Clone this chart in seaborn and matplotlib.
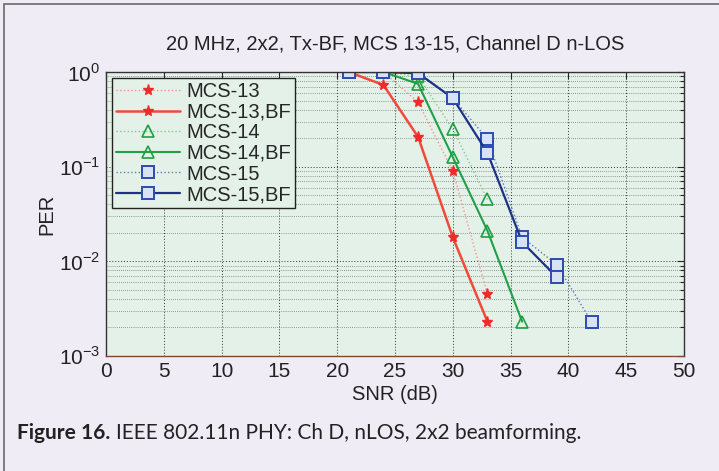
import matplotlib
matplotlib.use("Agg")
import matplotlib.pyplot as plt
from matplotlib.patches import Rectangle
from matplotlib.ticker import LogLocator, NullFormatter, FixedLocator
import seaborn as sns
import pandas as pd

sns.set_theme(style="white")
plt.rcParams['font.family'] = ['Liberation Sans', 'DejaVu Sans']
plt.rcParams['mathtext.fontset'] = 'custom'
plt.rcParams['mathtext.rm'] = 'Liberation Sans'

title = "20 MHz, 2x2, Tx-BF, MCS 13-15, Channel D n-LOS"
xlabel = "SNR (dB)"
ylabel = "PER"
caption_bold = "Figure 16."
caption_rest = "IEEE 802.11n PHY: Ch D, nLOS, 2x2 beamforming."

snr_13 = [21, 24, 27, 30, 33]
per_13 = [1.0, 1.0, 0.48, 0.09, 0.0045]
snr_13bf = [21, 24, 27, 30, 33]
per_13bf = [1.0, 0.73, 0.206, 0.018, 0.0023]
snr_14 = [21, 24, 27, 30, 33]
per_14 = [1.0, 1.0, 0.9, 0.25, 0.045]
snr_14bf = [21, 24, 27, 30, 33, 36]
per_14bf = [1.0, 1.0, 0.75, 0.126, 0.021, 0.0023]
snr_15 = [21, 24, 27, 30, 33, 36, 39, 42]
per_15 = [1.0, 1.0, 1.0, 0.53, 0.196, 0.018, 0.0092, 0.0023]
snr_15bf = [21, 24, 27, 30, 33, 36, 39]
per_15bf = [1.0, 1.0, 0.97, 0.53, 0.14, 0.016, 0.0068]

labels = ["MCS-13", "MCS-13,BF", "MCS-14", "MCS-14,BF", "MCS-15", "MCS-15,BF"]
xticks = [0, 5, 10, 15, 20, 25, 30, 35, 40, 45, 50]

series = [
    (snr_13, per_13), (snr_13bf, per_13bf), (snr_14, per_14),
    (snr_14bf, per_14bf), (snr_15, per_15), (snr_15bf, per_15bf),
]
styles = [
    dict(color="#F49090", ls=":", lw=1.0, marker="*", ms=8, mfc="#EE2A2A", mec="#EE2A2A"),
    dict(color="#F04A3A", ls="-", lw=1.8, marker="*", ms=8, mfc="#EE2A2A", mec="#EE2A2A"),
    dict(color="#80C890", ls=":", lw=1.0, marker="^", ms=8, mfc="none", mec="#1FA040", mew=1.2),
    dict(color="#22A048", ls="-", lw=1.5, marker="^", ms=8, mfc="none", mec="#1FA040", mew=1.2),
    dict(color="#6078B8", ls=":", lw=1.0, marker="s", ms=8, mfc="#D8E2F4", mec="#2A4CB0", mew=1.4),
    dict(color="#1E3088", ls="-", lw=1.6, marker="s", ms=8, mfc="#D8E2F4", mec="#2A4CB0", mew=1.4),
]

fig = plt.figure(figsize=(7.19, 4.71), dpi=100)
fig.patch.set_facecolor("#F0ECF6")
fig.patches.append(Rectangle((0.006, -0.1), 1.2, 1.092, transform=fig.transFigure,
                             fill=False, edgecolor="#6A6A6A", lw=1.2))
ax = fig.add_axes([0.1474, 0.2442, 0.8039, 0.6029])
ax.set_facecolor("#E4F1E8")

for (x, y), lab, st in zip(series, labels, styles):
    df = pd.DataFrame({"snr": x, "per": y})
    sns.lineplot(data=df, x="snr", y="per", ax=ax, label=lab,
                 color=st["color"], linestyle=st["ls"], linewidth=st["lw"],
                 marker=st["marker"], markersize=st["ms"],
                 markerfacecolor=st["mfc"], markeredgecolor=st["mec"],
                 markeredgewidth=st.get("mew", 1.0))

ax.set_yscale("log")
ax.set_xlim(0, 50)
ax.set_ylim(1e-3, 1.0)
ax.set_xticks(xticks)
ax.set_xticklabels([str(t) for t in xticks])
ax.yaxis.set_major_locator(FixedLocator([1e-3, 1e-2, 1e-1, 1]))
ax.set_yticklabels([r"$10^{-3}$", r"$10^{-2}$", r"$10^{-1}$", r"$10^{0}$"])
ax.yaxis.set_minor_locator(LogLocator(base=10, subs=range(2, 10)))
ax.yaxis.set_minor_formatter(NullFormatter())

ax.grid(True, which="major", color="#333333", linestyle=(0, (1, 2)), lw=0.7)
ax.grid(True, which="minor", axis="y", color="#444444", linestyle=(0, (1, 2)), lw=0.5)
ax.tick_params(axis="both", which="both", direction="in", top=True, right=True,
               labelsize=15, colors="#222222", length=5, width=0.8, pad=4)
ax.tick_params(axis="y", which="minor", length=3)
for s in ax.spines.values():
    s.set_color("#333333")
    s.set_linewidth(1.0)
ax.spines["bottom"].set_color("#7A4A30")

ax.set_title(title, fontsize=14.5, color="#222222", pad=16)
ax.set_xlabel(xlabel, fontsize=14.5, color="#222222", labelpad=3)
ax.set_ylabel(ylabel, fontsize=14.5, color="#222222", labelpad=2)

leg = ax.legend(loc="upper left", fontsize=14.5, frameon=True, fancybox=False,
                borderaxespad=0.3, handlelength=3.2, handletextpad=0.3,
                labelspacing=0.08, borderpad=0.2)
leg.get_frame().set_edgecolor("#222222")
leg.get_frame().set_facecolor("#E4F1E8")
leg.get_frame().set_linewidth(1.0)
leg.get_frame().set_alpha(1.0)

cap_family = ["Lato", "DejaVu Sans"]
t1 = fig.text(0.024, 0.068, caption_bold, fontsize=15, fontweight="bold",
              family=cap_family, color="#222222")
fig.canvas.draw()
bb = t1.get_window_extent(renderer=fig.canvas.get_renderer())
x_next = (bb.x1 + 5) / fig.bbox.width
fig.text(x_next, 0.068, caption_rest, fontsize=15,
         family=cap_family, color="#222222")

fig.savefig("out.png", dpi=100, facecolor=fig.get_facecolor())
